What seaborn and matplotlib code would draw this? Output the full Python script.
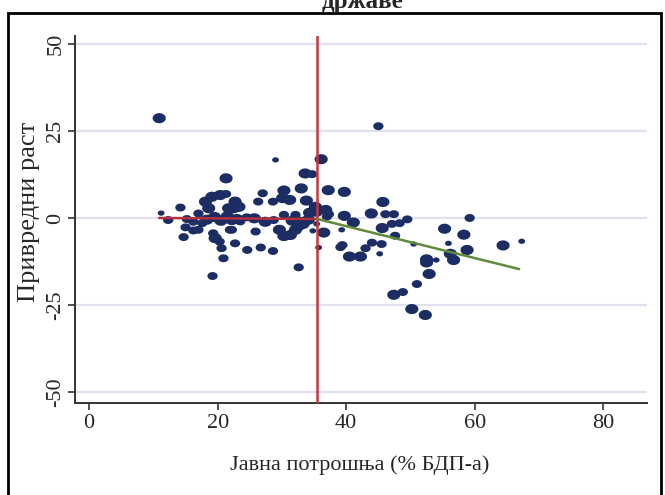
import numpy as np
import pandas as pd
import matplotlib
matplotlib.use("Agg")
import matplotlib.pyplot as plt
from matplotlib.patches import Rectangle
import seaborn as sns

# Public spending (% of GDP), economic growth and observation weight class
spending = [
    10.9, 11.2, 12.3, 14.2, 15.2, 16.2, 17.0, 15.0, 16.2, 17.0, 14.7,
    18.1, 18.6, 19.1, 20.4, 21.3, 21.3, 19.3, 21.7, 22.5, 23.3, 22.7,
    19.3, 19.6, 20.3, 21.9, 20.6, 20.9, 19.2,
    18.3, 19.5, 20.5, 21.5, 22.2, 23.5, 24.5,
    22.2, 22.7, 24.6, 26.7, 28.6, 25.9, 25.7, 27.4, 28.7, 30.3, 32.1, 32.9,
    29.6, 30.3, 31.3, 32.1, 32.6, 29.0, 33.6, 34.7, 33.0, 30.3, 27.0,
    30.1, 31.2, 33.8, 26.3, 28.6, 35.2, 35.4, 34.8, 35.7, 32.6, 33.3, 35.4,
    17.6, 23.0, 31.6, 34.1, 34.3,
    36.1, 37.2, 39.7, 36.8, 37.0, 37.3, 39.7, 41.1, 36.5, 39.3, 39.4, 39.1,
    40.5, 42.2, 44.0, 43.0, 45.5, 45.2, 45.0, 45.7, 43.9, 46.1, 47.4, 49.5,
    48.3, 47.1, 45.6, 47.6, 50.5, 52.5, 52.5, 54.0, 52.9, 51.0, 48.8, 47.4,
    50.2, 52.3, 55.3, 58.3, 55.9, 58.8, 56.2, 56.7, 59.2, 64.4, 67.3,
]
growth = [
    28.7, 1.4, -0.6, 3.0, -0.3, -1.1, 1.3, -2.7, -3.6, -3.4, -5.5,
    4.7, 2.8, 6.1, 6.6, 11.4, 6.9, 6.3, 2.8, 2.8, 3.2, 4.7,
    -4.4, -5.8, -6.8, -3.4, -8.7, -11.6, -16.7,
    -0.5, 0.3, -0.8, 0.5, -0.6, -1.0, 0.2,
    -3.4, -7.3, -9.2, -8.5, -9.5, -3.9, -0.1, -1.1, -0.6, 0.9, 0.9, -1.1,
    -3.4, -5.2, -4.9, -3.4, -2.3, 16.7, 12.8, 12.6, 8.5, 7.9, 7.1,
    5.7, 5.2, 5.0, 4.7, 4.7, 3.2, 1.8, -3.7, -8.5, -14.2, -1.7, -1.7,
    -1.5, -0.3, -0.8, -0.5, 1.5,
    16.9, 8.0, 7.5, 2.3, 0.4, 1.1, 0.6, -1.3, -4.2, -3.4, -7.8, -8.4,
    -11.1, -11.1, -7.1, -8.7, -7.5, -10.3, 26.4, 4.6, 1.3, 1.1, 1.1, -0.4,
    -1.5, -1.7, -2.9, -5.1, -7.5, -11.9, -12.8, -12.1, -16.1, -19.0, -21.3, -22.1,
    -26.2, -27.9, -3.1, -4.8, -7.3, -9.2, -10.3, -12.1, 0.0, -7.9, -6.7,
]
weight = [
    3, 1, 2, 2, 2, 2, 2, 2, 2, 2, 2,
    3, 3, 3, 3, 3, 2, 2, 3, 3, 3, 3,
    2, 3, 2, 2, 2, 2, 2,
    3, 3, 3, 3, 3, 2, 2,
    2, 2, 2, 2, 2, 2, 3, 3, 2, 2, 2, 3,
    3, 3, 3, 3, 3, 1, 3, 2, 3, 3, 2,
    3, 3, 3, 2, 2, 3, 3, 1, 1, 2, 3, 1,
    2, 3, 3, 3, 3,
    3, 3, 3, 3, 2, 2, 3, 3, 3, 1, 2, 2,
    3, 3, 2, 2, 2, 1, 2, 3, 3, 2, 2, 2,
    2, 2, 3, 2, 1, 3, 3, 1, 3, 2, 2, 3,
    3, 3, 3, 3, 1, 3, 3, 3, 2, 3, 1,
]

# Threshold and the two fitted segments on either side of it
threshold = 35.5
fit_low_x = [10.9, 35.5]
fit_low_y = [0.0, -0.3]
fit_high_x = [35.5, 66.9]
fit_high_y = [-0.3, -14.7]

x_ticks = [0, 20, 40, 60, 80]
y_ticks = [-50, -25, 0, 25, 50]

df = pd.DataFrame({"spending": spending, "growth": growth, "weight": weight})

sns.set_theme(style="white")
plt.rcParams["font.family"] = ["Liberation Serif", "DejaVu Serif"]

fig = plt.figure(figsize=(6.65, 4.95), dpi=100)
ax = fig.add_axes([0.1128, 0.186, 0.8602, 0.741])

# horizontal grid
for yv in y_ticks:
    ax.axhline(yv, color="#dfe2ee", lw=1.6, zorder=0)

# slightly wide elliptical marker
t = np.linspace(0, 2 * np.pi, 40)
ellipse = np.column_stack([1.3 * np.cos(t), np.sin(t)])

sns.scatterplot(
    data=df, x="spending", y="growth", size="weight",
    sizes={1: 24, 2: 55, 3: 90}, marker=ellipse,
    color="#1b2d63", edgecolor="none", legend=False, ax=ax, zorder=3,
)

ax.axvline(threshold, color="#c8353f", lw=1.8, zorder=4)
sns.lineplot(x=fit_low_x, y=fit_low_y, color="#b5303c", lw=1.8, ax=ax, zorder=5)
sns.lineplot(x=fit_high_x, y=fit_high_y, color="#5f8a3a", lw=1.8, ax=ax, zorder=5)

ax.set_xlim(-2.2, 86.8)
ax.set_ylim(-53.2, 52.3)
ax.set_xticks(x_ticks)
ax.set_yticks(y_ticks)
ax.set_xticklabels([str(v) for v in x_ticks])
ax.set_yticklabels([str(v) for v in y_ticks], rotation=90, va="center")
ax.tick_params(axis="both", which="both", direction="out", length=5, width=1.2,
               color="#333333", labelsize=16, left=True, bottom=True)
ax.tick_params(axis="y", pad=2)
ax.tick_params(axis="x", pad=3)
for side in ["top", "right"]:
    ax.spines[side].set_visible(False)
for side in ["left", "bottom"]:
    ax.spines[side].set_color("#333333")
    ax.spines[side].set_linewidth(1.4)

ax.set_xlabel("Јавна потрошња (% БДП-а)", fontsize=16)
ax.set_ylabel("Привредни раст", fontsize=19)
ax.xaxis.set_label_coords(0.497, -0.142)
ax.yaxis.set_label_coords(-0.062, 0.52)

# outer frame and title
fig.patches.append(Rectangle((8 / 665, -0.02), 653 / 665, 1.02 - 13 / 495,
                             transform=fig.transFigure, fill=False,
                             edgecolor="black", lw=2))
fig.text(0.545, 1 - 8 / 495, "државе", ha="center", va="baseline",
         fontsize=18, fontweight="bold")

fig.savefig("out.png", dpi=100)
